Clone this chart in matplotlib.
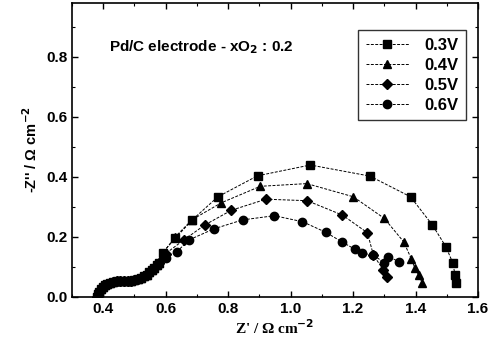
import matplotlib.pyplot as plt
from matplotlib.ticker import MultipleLocator

# high-frequency arc, shared by all four potentials (points overlap)
hf_x = [0.38, 0.383, 0.387, 0.392, 0.398, 0.405, 0.413, 0.422, 0.432, 0.443, 0.455,
        0.467, 0.479, 0.49, 0.5, 0.51, 0.52, 0.53, 0.54, 0.548, 0.556, 0.564, 0.572, 0.58]
hf_y = [0.0, 0.01, 0.018, 0.026, 0.033, 0.039, 0.044, 0.048, 0.051, 0.052, 0.053,
        0.053, 0.054, 0.055, 0.057, 0.06, 0.064, 0.069, 0.075, 0.082, 0.09, 0.098, 0.106, 0.115]

x_03 = [0.59, 0.631, 0.685, 0.767, 0.894, 1.063, 1.254, 1.384, 1.454, 1.497, 1.52, 1.526, 1.531]
y_03 = [0.148, 0.196, 0.257, 0.334, 0.404, 0.44, 0.403, 0.334, 0.24, 0.168, 0.112, 0.075, 0.046]

x_04 = [0.59, 0.63, 0.685, 0.778, 0.903, 1.052, 1.201, 1.30, 1.362, 1.387, 1.398, 1.41, 1.421]
y_04 = [0.145, 0.2, 0.258, 0.314, 0.369, 0.378, 0.334, 0.262, 0.184, 0.126, 0.096, 0.073, 0.048]

x_05 = [0.6, 0.658, 0.725, 0.81, 0.921, 1.053, 1.166, 1.246, 1.265, 1.297, 1.308]
y_05 = [0.145, 0.19, 0.24, 0.289, 0.326, 0.321, 0.273, 0.214, 0.14, 0.09, 0.068]

x_06 = [0.6, 0.636, 0.674, 0.754, 0.846, 0.948, 1.038, 1.112, 1.164, 1.206, 1.23,
        1.265, 1.30, 1.313, 1.347]
y_06 = [0.13, 0.151, 0.19, 0.227, 0.257, 0.271, 0.251, 0.216, 0.184, 0.159, 0.146,
        0.14, 0.114, 0.134, 0.118]

labels = ["0.3V", "0.4V", "0.5V", "0.6V"]
markers = ["s", "^", "D", "o"]
sizes = [5.5, 6, 5, 6]

plt.rcParams["font.family"] = ["Liberation Sans", "DejaVu Sans"]
plt.rcParams["font.weight"] = "bold"
plt.rcParams["mathtext.default"] = "bf"

fig = plt.figure(figsize=(4.94, 3.5), dpi=100)
ax = fig.add_axes([72 / 494, 53 / 350, 406 / 494, 294 / 350])

series = [(x_03, y_03), (x_04, y_04), (x_05, y_05), (x_06, y_06)]
for (xs, ys), lab, m, ms in zip(series, labels, markers, sizes):
    ax.plot(hf_x + xs, hf_y + ys, color="black", lw=0.7, ls=(0, (3, 1.5)),
            marker=m, ms=ms, mfc="black", mec="black", label=lab)

ax.set_xlim(0.3, 1.6)
ax.set_ylim(0.0, 0.98)
ax.xaxis.set_major_locator(MultipleLocator(0.2))
ax.xaxis.set_minor_locator(MultipleLocator(0.1))
ax.yaxis.set_major_locator(MultipleLocator(0.2))
ax.yaxis.set_minor_locator(MultipleLocator(0.1))
ax.tick_params(which="both", direction="in", top=True, right=True, labelsize=11)
ax.tick_params(which="major", length=4, width=1)
ax.tick_params(which="minor", length=2, width=0.8)
ax.xaxis.set_major_formatter(plt.FormatStrFormatter("%.1f"))
ax.yaxis.set_major_formatter(plt.FormatStrFormatter("%.1f"))
for s in ax.spines.values():
    s.set_linewidth(1.2)

ax.set_ylabel("-Z'' / Ω cm$^{-2}$", fontsize=10.5, fontweight="bold", labelpad=4)
ax.set_xlabel("Z' / Ω cm$^{-2}$", fontsize=11, family="Liberation Serif",
              fontweight="bold", labelpad=2)

ax.text(0.09, 0.835, "Pd/C electrode - xO$_{2}$ : 0.2", transform=ax.transAxes,
        fontsize=11, fontweight="bold")

leg = ax.legend(loc="upper right", bbox_to_anchor=(0.99, 0.935), fontsize=12,
                frameon=True, fancybox=False, edgecolor="black", handlelength=2.6,
                labelspacing=0.3, borderpad=0.45, handletextpad=0.9)
leg.get_frame().set_linewidth(1.0)

fig.savefig("out.png", dpi=100)
